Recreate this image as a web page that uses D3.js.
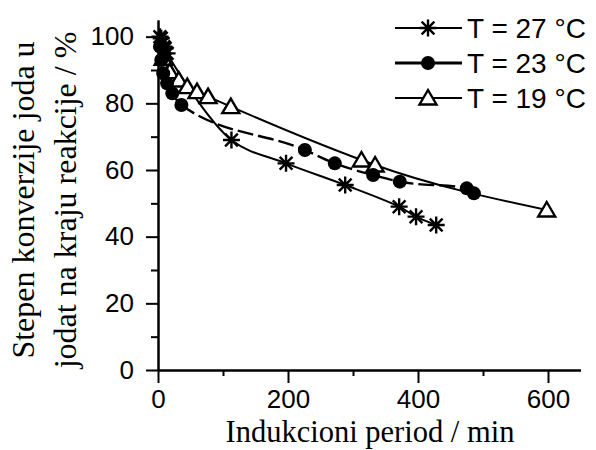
<!DOCTYPE html>
<html>
<head>
<meta charset="utf-8">
<script src="https://cdn.jsdelivr.net/npm/d3@7"></script>
<style>
  body { margin: 0; background: #fff; }
  svg { display: block; }
</style>
</head>
<body>
<script>
var width = 596;
var height = 450;

// podaci: T = 27 °C
var x27 = [3, 5, 7, 9, 11, 14, 113, 197, 288, 371, 397, 428];
var y27 = [100, 99.5, 98, 97, 96.5, 95, 69, 62, 55.5, 49, 46, 43.5];
// T = 23 °C
var x23 = [3, 5, 8, 14, 22, 36, 226, 272, 331, 372, 475, 486];
var y23 = [97, 93, 89, 86, 83, 79.5, 66, 62, 58.5, 56.5, 54.5, 53];
// T = 19 °C
var x19 = [8, 18, 32, 45, 60, 77, 112, 313, 334, 598];
var y19 = [93.5, 89.5, 87, 85, 83.5, 82, 79, 63, 61.5, 48];

var seriesNames = ["T = 27 °C", "T = 23 °C", "T = 19 °C"];
var xTicks = [0, 200, 400, 600];
var xMinor = [100, 300, 500];
var yTicks = [0, 20, 40, 60, 80, 100];
var yMinor = [10, 30, 50, 70, 90];

var svg = d3.select("body").append("svg")
    .attr("width", width)
    .attr("height", height);

var x = d3.scaleLinear().domain([0, 650]).range([158, 580.5]);
var y = d3.scaleLinear().domain([0, 105]).range([370, 20]);

var sans = "Liberation Sans, Arial, sans-serif";
var serif = "Liberation Serif, Times New Roman, serif";

// ose
svg.append("g").attr("transform", "translate(0," + y(0) + ")")
    .call(d3.axisBottom(x).tickValues(xTicks).tickSize(13).tickSizeOuter(0).tickPadding(7));
svg.append("g").attr("transform", "translate(0," + y(0) + ")")
    .call(d3.axisBottom(x).tickValues(xMinor).tickSize(6).tickSizeOuter(0).tickFormat(""));
svg.append("g").attr("transform", "translate(" + x(0) + ",0)")
    .call(d3.axisLeft(y).tickValues(yTicks).tickSize(12).tickSizeOuter(0).tickPadding(12));
svg.append("g").attr("transform", "translate(" + x(0) + ",0)")
    .call(d3.axisLeft(y).tickValues(yMinor).tickSize(7).tickSizeOuter(0).tickFormat(""));

svg.selectAll(".domain, .tick line").attr("stroke", "#000").attr("stroke-width", 2);
svg.selectAll(".tick text").attr("fill", "#000").style("font-family", sans).style("font-size", "26px");

// naslovi osa
svg.append("text")
    .attr("x", 370).attr("y", 442)
    .attr("text-anchor", "middle")
    .style("font-family", serif).style("font-size", "30.5px")
    .text("Indukcioni period / min");

var ylab = svg.append("text")
    .attr("transform", "translate(0,200) rotate(-90)")
    .attr("text-anchor", "middle")
    .style("font-family", serif).style("font-size", "32px");
ylab.append("tspan").attr("x", 0).attr("y", 34).text("Stepen konverzije joda u");
ylab.append("tspan").attr("x", 0).attr("y", 76).text("jodat na kraju reakcije / %");

// markeri
function asterisk(s) {
    var p = d3.path();
    p.moveTo(0, -s); p.lineTo(0, s);
    p.moveTo(-s, 0); p.lineTo(s, 0);
    var d = s * 0.75;
    p.moveTo(-d, -d); p.lineTo(d, d);
    p.moveTo(-d, d); p.lineTo(d, -d);
    return p.toString();
}
function triangle() {
    return "M0,-8L8.5,6.5L-8.5,6.5Z";
}

function drawMarker(g, kind) {
    if (kind === 0) {
        g.append("path").attr("d", asterisk(8.5))
            .attr("stroke", "#000").attr("stroke-width", 2.4).attr("fill", "none");
    } else if (kind === 1) {
        g.append("circle").attr("r", 7).attr("fill", "#000");
    } else {
        g.append("path").attr("d", triangle())
            .attr("stroke", "#000").attr("stroke-width", 2.4).attr("fill", "#fff");
    }
}

var series = [
    { xs: x27, ys: y27, dash: null, w: 2, curve: d3.curveCatmullRom.alpha(0.5) },
    { xs: x23, ys: y23, dash: "16,5", w: 2.4, curve: d3.curveMonotoneX },
    { xs: x19, ys: y19, dash: null, w: 2, curve: d3.curveMonotoneX }
];

series.forEach(function(s) {
    var pts = d3.zip(s.xs, s.ys);
    var line = d3.line()
        .x(function(d) { return x(d[0]); })
        .y(function(d) { return y(d[1]); })
        .curve(s.curve);
    svg.append("path").datum(pts)
        .attr("d", line)
        .attr("fill", "none")
        .attr("stroke", "#000")
        .attr("stroke-width", s.w)
        .attr("stroke-dasharray", s.dash);
});

// markeri crtani redom 19, 23, 27
[2, 1, 0].forEach(function(k) {
    var pts = d3.zip(series[k].xs, series[k].ys);
    pts.forEach(function(d) {
        var g = svg.append("g").attr("transform", "translate(" + x(d[0]) + "," + y(d[1]) + ")");
        drawMarker(g, k);
    });
});

// legenda
var legY = [28, 63, 98];
seriesNames.forEach(function(name, i) {
    var g = svg.append("g").attr("transform", "translate(0," + legY[i] + ")");
    g.append("line").attr("x1", 395).attr("x2", 462)
        .attr("stroke", "#000").attr("stroke-width", i === 1 ? 3 : 2);
    var m = g.append("g").attr("transform", "translate(428,0)");
    drawMarker(m, i);
    g.append("text").attr("x", 467).attr("y", 9.5)
        .style("font-family", sans).style("font-size", "28px")
        .text(name);
});
</script>
</body>
</html>
